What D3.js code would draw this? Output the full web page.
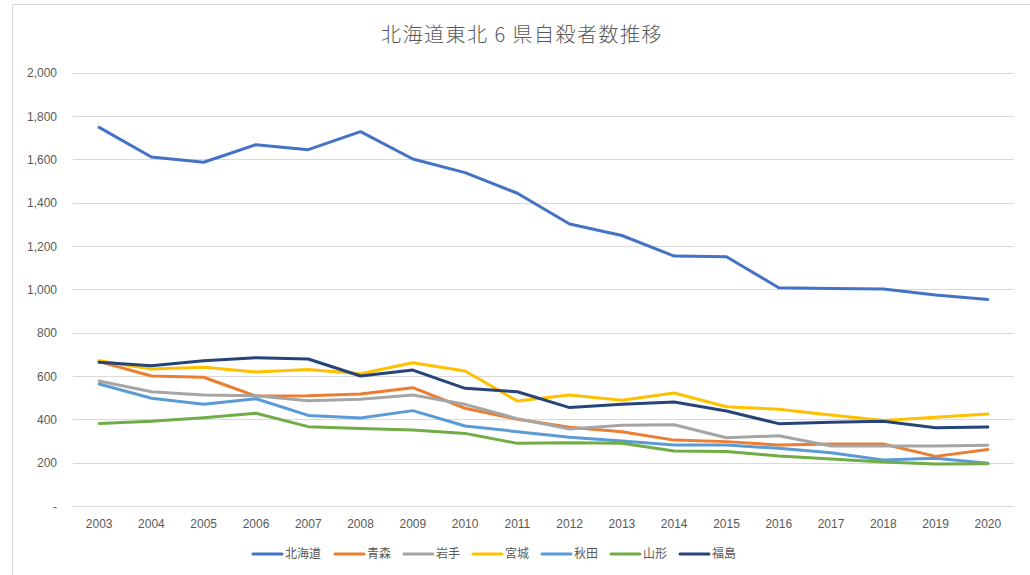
<!DOCTYPE html>
<html><head><meta charset="utf-8">
<script src="https://cdn.jsdelivr.net/npm/d3@7"></script>
<style>body{margin:0;background:#fff}svg{display:block}</style>
</head><body><svg id="c" width="1030" height="575"></svg>
<script>
const years = ["2003","2004","2005","2006","2007","2008","2009","2010","2011","2012","2013","2014","2015","2016","2017","2018","2019","2020"];
const hokkaido = [1747,1610,1586,1667,1644,1727,1601,1538,1443,1301,1248,1153,1150,1007,1004,1001,973,953];
const aomori   = [666,600,594,507,509,517,546,451,400,363,343,304,297,281,286,286,229,261];
const iwate    = [577,527,512,509,486,492,512,469,403,355,372,375,315,324,277,277,277,280];
const miyagi   = [670,632,640,618,630,610,661,623,484,512,488,521,458,446,420,395,409,424];
const akita    = [563,497,469,495,418,406,440,369,343,317,300,281,281,266,246,212,220,197];
const yamagata = [381,391,407,428,366,357,351,335,289,292,289,254,251,231,217,203,194,195];
const fukushima= [663,647,670,684,678,600,627,543,527,454,469,480,438,380,386,391,361,364];
const seriesNames = ["北海道","青森","岩手","宮城","秋田","山形","福島"];
const seriesValues = [hokkaido,aomori,iwate,miyagi,akita,yamagata,fukushima];
const colors = ["#4472C4","#ED7D31","#A5A5A5","#FFC000","#5B9BD5","#70AD47","#264478"];
const yTicks = [0,200,400,600,800,1000,1200,1400,1600,1800,2000];
const title = "北海道東北 6 県自殺者数推移";

const svg = d3.select("#c");
const L = 73, R = 1014, T = 72.5, B = 506;
const x = d3.scaleBand().domain(years).range([L, R]);
const y = d3.scaleLinear().domain([0, 2000]).range([B, T]);
const numFont = "'Liberation Sans', Arial, sans-serif";
const cjkFont = "'Noto Sans CJK JP', sans-serif";

// outer border
svg.append("path").attr("d", "M12.5,575 V4.5 H1030").attr("fill","none").attr("stroke","#d9d9d9").attr("stroke-width",1);

// title
svg.append("text").attr("x", 522).attr("y", 42).attr("text-anchor","middle")
  .attr("font-family", cjkFont).attr("font-size", 20).attr("font-weight", 300)
  .attr("letter-spacing", "1.5px").attr("fill","#595959").text(title);

// gridlines
svg.append("g").selectAll("line").data(yTicks).join("line")
  .attr("x1", L).attr("x2", R)
  .attr("y1", d => Math.round(y(d)) + 0.5).attr("y2", d => Math.round(y(d)) + 0.5)
  .attr("stroke", "#d9d9d9").attr("stroke-width", 1);

// y axis labels
const yAxis = d3.axisLeft(y).tickValues(yTicks).tickSize(0).tickPadding(0)
  .tickFormat(d => d === 0 ? "-" : d3.format(",")(d));
const gy = svg.append("g").attr("transform", `translate(57,0)`).call(yAxis);
gy.select(".domain").remove();
gy.selectAll("text").attr("font-family", numFont).attr("font-size", 12).attr("fill", "#595959").attr("dy","0.35em");

// x axis labels
const xAxis = d3.axisBottom(x).tickSize(0).tickPadding(0);
const gx = svg.append("g").attr("transform", `translate(0,${B})`).call(xAxis);
gx.select(".domain").remove();
gx.selectAll("text").attr("font-family", numFont).attr("font-size", 12).attr("fill", "#595959").attr("dy", "22px");

// lines
const line = d3.line().x((d, i) => x(years[i]) + x.bandwidth() / 2).y(d => y(d));
svg.append("g").selectAll("path").data(seriesValues).join("path")
  .attr("d", d => line(d)).attr("fill", "none")
  .attr("stroke", (d, i) => colors[i]).attr("stroke-width", 3)
  .attr("stroke-linejoin", "round").attr("stroke-linecap", "round");

// legend
const legendX = [253, 335, 404, 473, 542, 611, 680];
const lg = svg.append("g");
seriesNames.forEach((n, i) => {
  lg.append("line").attr("x1", legendX[i]).attr("x2", legendX[i] + 29).attr("y1", 554).attr("y2", 554)
    .attr("stroke", colors[i]).attr("stroke-width", 3).attr("stroke-linecap","round");
  lg.append("text").attr("x", legendX[i] + 32).attr("y", 554).attr("dy", "0.35em")
    .attr("font-family", cjkFont).attr("font-size", 12).attr("fill", "#595959").text(n);
});
</script></body></html>
